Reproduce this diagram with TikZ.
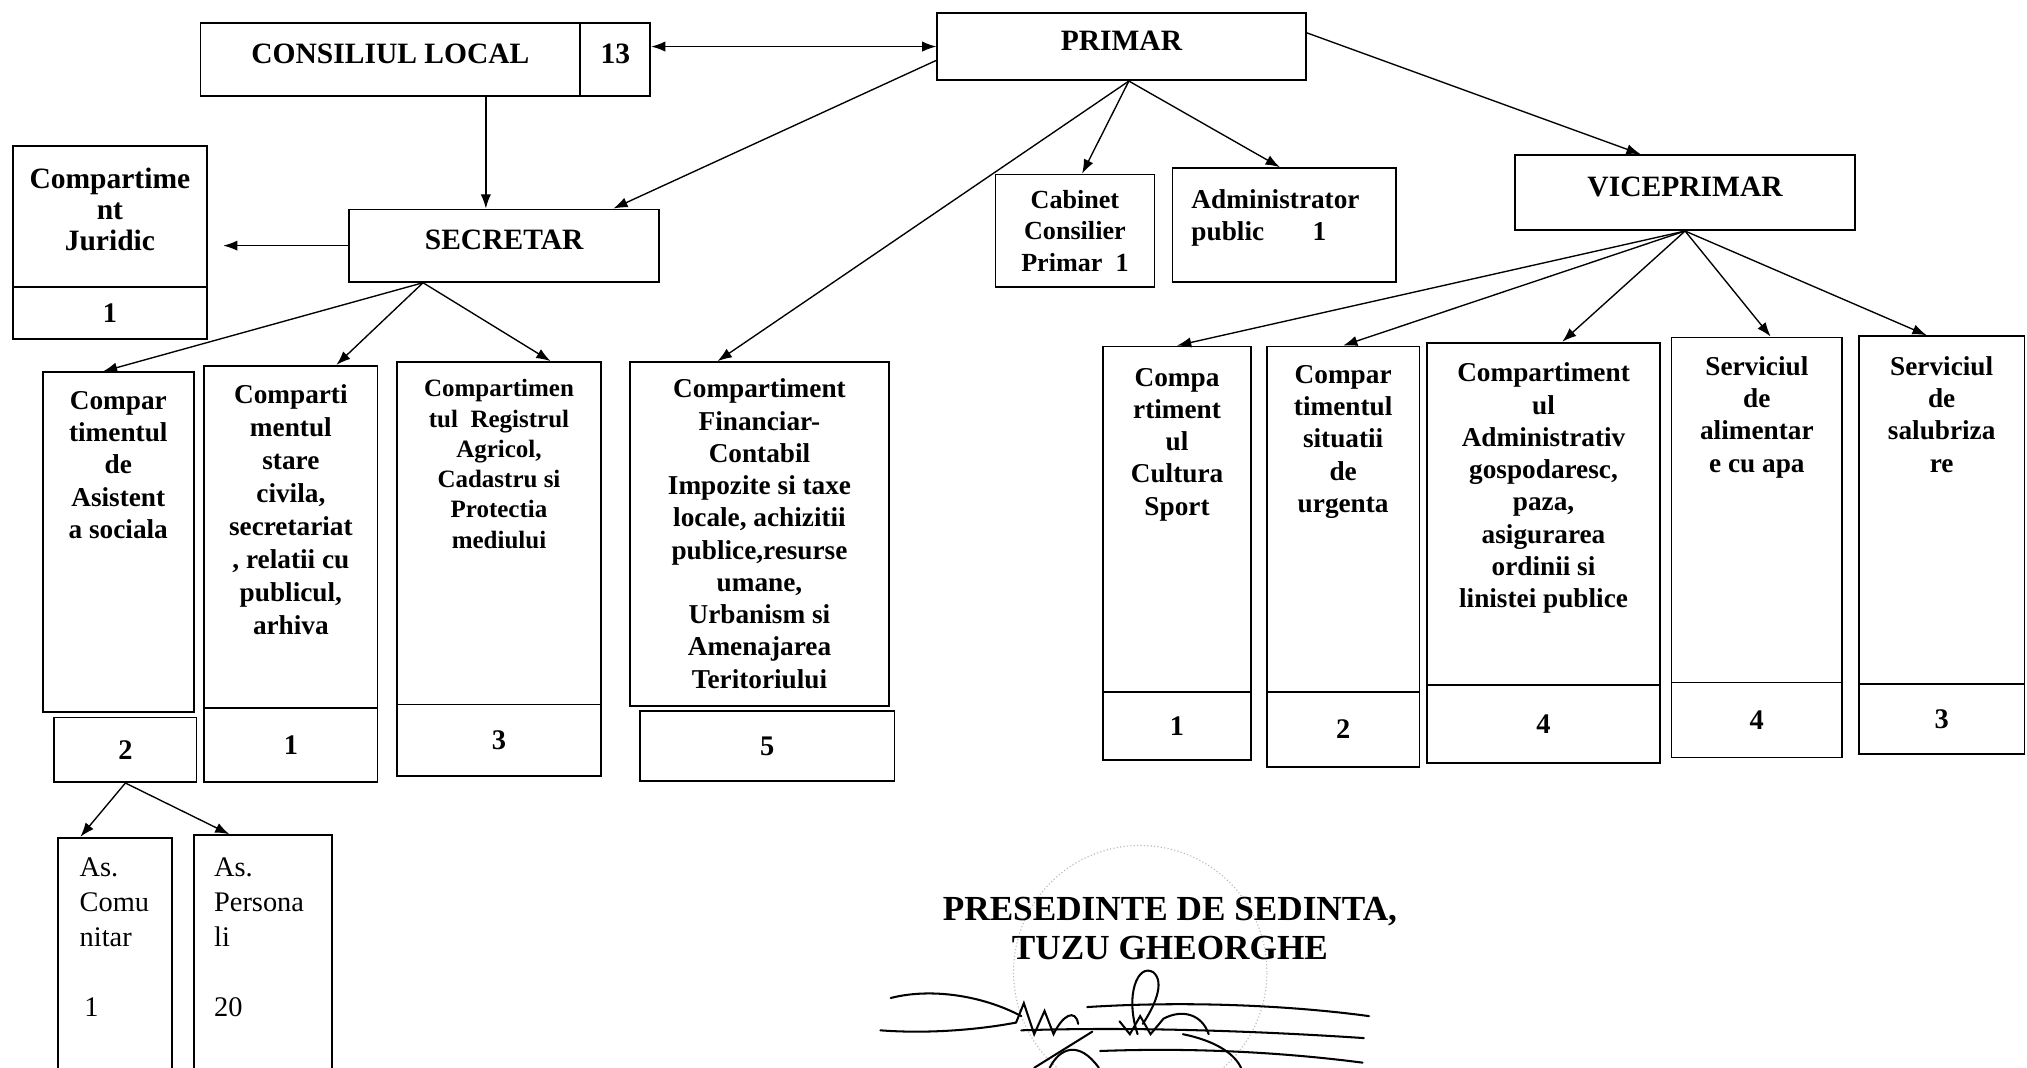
\documentclass[tikz,border=0pt]{standalone}
\usepackage{fontspec}
\setmainfont{Liberation Serif}
\usetikzlibrary{arrows.meta,positioning,calc}

\tikzset{
  cellbox/.style={draw, line width=0.8pt, inner sep=0pt},
  headtxt/.style={font=\bfseries\fontsize{13}{15}\selectfont, text depth=0.18cm},
  txt/.style={font=\bfseries\fontsize{12}{14.2}\selectfont, align=center, inner sep=0pt},
  smalltxt/.style={font=\bfseries\fontsize{11}{13.3}\selectfont, align=center, inner sep=0pt},
  handtxt/.style={font=\fontsize{12.5}{15.4}\selectfont, align=left, inner sep=0pt},
  numtxt/.style={font=\bfseries\fontsize{12.5}{14}\selectfont},
  sigtxt/.style={font=\bfseries\fontsize{15.5}{16}\selectfont},
  conn/.style={->, >={Latex[length=2.2mm,width=1.6mm]}, line width=0.6pt},
  signstroke/.style={line width=0.9pt, line cap=round},
}

\begin{document}
\begin{tikzpicture}[x=0.02cm, y=-0.02cm]
  \useasboundingbox (0,0) rectangle (1568,826);
  \clip (0,0) rectangle (1568,826);

  % Conducere
  \node[cellbox, headtxt, minimum width=5.88cm, minimum height=1.12cm] (consiliu) at (302,46) {CONSILIUL LOCAL};
  \node[cellbox, headtxt, minimum width=1.08cm, minimum height=1.12cm] (consiliu-nr) at (476,46) {13};
  \node[cellbox, headtxt, minimum width=5.7cm, minimum height=1.04cm] (primar) at (867.5,36) {PRIMAR};
  \node[cellbox, headtxt, minimum width=4.8cm, minimum height=1.12cm] (secretar) at (390,190) {SECRETAR};
  \node[cellbox, headtxt, minimum width=5.26cm, minimum height=1.16cm] (viceprimar) at (1303.5,149) {VICEPRIMAR};

  % Cabinet si administrator
  \node[cellbox, txt, font=\bfseries\fontsize{11.5}{13.8}\selectfont, minimum width=2.46cm, minimum height=1.74cm] (cabinet) at (831.5,178.5) {Cabinet\\Consilier\\Primar~~1};
  \node[cellbox, minimum width=3.46cm, minimum height=1.76cm] (admin) at (993.5,174) {};
  \node[txt, align=left, below right=0.34cm and 0.3cm of admin.north west] (admin-txt) {Administrator\\public\hspace{0.75cm}1};

  % Juridic
  \node[cellbox, minimum width=3cm, minimum height=2.18cm] (juridic) at (85,167.5) {};
  \node[cellbox, numtxt, minimum width=3cm, minimum height=0.8cm] (juridic-nr) at (85,242) {1};
  \node[txt, font=\bfseries\fontsize{13}{13.7}\selectfont, below=0.34cm of juridic.north] (juridic-txt) {Compartime\\nt\\Juridic};

  % Compartimente secretar
  \node[cellbox, minimum width=2.34cm, minimum height=5.26cm] (asist) at (91.5,419.5) {};
  \node[cellbox, numtxt, minimum width=2.2cm, minimum height=1cm] (asist-nr) at (97,580) {2};
  \node[txt, below=0.3cm of asist.north] (asist-txt) {Compar\\timentul\\de\\Asistent\\a sociala};

  \node[cellbox, minimum width=2.68cm, minimum height=5.3cm] (stare) at (225,415.5) {};
  \node[cellbox, numtxt, minimum width=2.68cm, minimum height=1.14cm] (stare-nr) at (225,576.5) {1};
  \node[txt, font=\bfseries\fontsize{12}{14.5}\selectfont, below=0.3cm of stare.north] (stare-txt) {Comparti\\mentul\\stare\\civila,\\secretariat\\, relatii cu\\publicul,\\arhiva};

  \node[cellbox, minimum width=3.16cm, minimum height=5.3cm] (registru) at (386,412.5) {};
  \node[cellbox, numtxt, minimum width=3.16cm, minimum height=1.1cm] (registru-nr) at (386,572.5) {3};
  \node[smalltxt, below=0.28cm of registru.north] (registru-txt) {Compartimen\\tul~~Registrul\\Agricol,\\Cadastru si\\Protectia\\mediului};

  % Financiar
  \node[cellbox, minimum width=4.02cm, minimum height=5.32cm] (financiar) at (587.5,413) {};
  \node[cellbox, numtxt, minimum width=3.94cm, minimum height=1.08cm] (financiar-nr) at (593.5,577) {5};
  \node[txt, below=0.27cm of financiar.north] (financiar-txt) {Compartiment\\Financiar-\\Contabil\\Impozite si taxe\\locale, achizitii\\publice,resurse\\umane,\\Urbanism si\\Amenajarea\\Teritoriului};

  % Compartimente viceprimar
  \node[cellbox, minimum width=2.3cm, minimum height=5.34cm] (cultura) at (910.5,401.5) {};
  \node[cellbox, numtxt, minimum width=2.3cm, minimum height=1.06cm] (cultura-nr) at (910.5,561.5) {1};
  \node[txt, below=0.34cm of cultura.north] (cultura-txt) {Compa\\rtiment\\ul\\Cultura\\Sport};

  \node[cellbox, minimum width=2.36cm, minimum height=5.34cm] (situatii) at (1039,401.5) {};
  \node[cellbox, numtxt, minimum width=2.36cm, minimum height=1.16cm] (situatii-nr) at (1039,564) {2};
  \node[txt, below=0.3cm of situatii.north] (situatii-txt) {Compar\\timentul\\situatii\\de\\urgenta};

  \node[cellbox, minimum width=3.6cm, minimum height=5.3cm] (administrativ) at (1194,397.5) {};
  \node[cellbox, numtxt, minimum width=3.6cm, minimum height=1.2cm] (administrativ-nr) at (1194,560) {4};
  \node[txt, below=0.32cm of administrativ.north] (administrativ-txt) {Compartiment\\ul\\Administrativ\\gospodaresc,\\paza,\\asigurarea\\ordinii si\\linistei publice};

  \node[cellbox, minimum width=2.64cm, minimum height=5.34cm] (alimentare) at (1359,394.5) {};
  \node[cellbox, numtxt, minimum width=2.64cm, minimum height=1.16cm] (alimentare-nr) at (1359,557) {4};
  \node[txt, below=0.3cm of alimentare.north] (alimentare-txt) {Serviciul\\de\\alimentar\\e cu apa};

  \node[cellbox, minimum width=2.56cm, minimum height=5.38cm] (salubrizare) at (1502,394.5) {};
  \node[cellbox, numtxt, minimum width=2.56cm, minimum height=1.08cm] (salubrizare-nr) at (1502,556) {3};
  \node[txt, below=0.32cm of salubrizare.north] (salubrizare-txt) {Serviciul\\de\\salubriza\\re};

  % Asistenti
  \node[cellbox, minimum width=1.76cm, minimum height=3.84cm] (ascom) at (89,744) {};
  \node[handtxt, below right=0.32cm and 0.34cm of ascom.north west] (ascom-txt) {As.\\Comu\\nitar\\[15.4pt]\,1};
  \node[cellbox, minimum width=2.14cm, minimum height=3.88cm] (aspers) at (203.5,743) {};
  \node[handtxt, below right=0.36cm and 0.32cm of aspers.north west] (aspers-txt) {As.\\Persona\\li\\[15.4pt]20};

  % Legaturi
  \coordinate (consiliu-jos) at ($(consiliu.south west)!0.75!(consiliu.south east)$);
  \coordinate (primar-jos) at ($(primar.south west)!0.52!(primar.south east)$);
  \coordinate (secretar-jos) at ($(secretar.south west)!0.24!(secretar.south east)$);

  \draw[conn, <->] (consiliu-nr.east |- primar.west) -- (primar.west);
  \draw[conn] (consiliu-jos) -- (consiliu-jos |- secretar.north);
  \draw[conn] ($(primar.south west)!0.3!(primar.north west)$) -- ($(secretar.north west)!0.85!(secretar.north east)$);
  \draw[conn, shorten >=0.24cm] (secretar.west) -- (secretar.west -| juridic.east);
  \draw[conn] (secretar-jos) -- ($(asist.north west)!0.4!(asist.north east)$);
  \draw[conn] (secretar-jos) -- ($(stare.north west)!0.76!(stare.north east)$);
  \draw[conn] (secretar-jos) -- ($(registru.north west)!0.75!(registru.north east)$);
  \draw[conn] (primar-jos) -- ($(cabinet.north west)!0.545!(cabinet.north east)$);
  \draw[conn] (primar-jos) -- ($(admin.north west)!0.48!(admin.north east)$);
  \draw[conn] (primar-jos) -- ($(financiar.north west)!0.34!(financiar.north east)$);
  \draw[conn] ($(primar.north east)!0.3!(primar.south east)$) -- ($(viceprimar.north west)!0.37!(viceprimar.north east)$);
  \draw[conn] (viceprimar.south) -- (cultura.north);
  \draw[conn] (viceprimar.south) -- (situatii.north);
  \draw[conn] (viceprimar.south) -- ($(administrativ.north west)!0.58!(administrativ.north east)$);
  \draw[conn] (viceprimar.south) -- ($(alimentare.north west)!0.58!(alimentare.north east)$);
  \draw[conn] (viceprimar.south) -- ($(salubrizare.north west)!0.41!(salubrizare.north east)$);
  \draw[conn] (asist-nr.south) -- ($(ascom.north west)!0.2!(ascom.north east)$);
  \draw[conn] (asist-nr.south) -- ($(aspers.north west)!0.26!(aspers.north east)$);

  % Semnatura
  \draw[gray!55, densely dotted, line width=0.5pt] (882,752) circle [radius=1.96cm];
  \node[sigtxt] (presedinte) at (905,705) {PRESEDINTE DE SEDINTA,};
  \node[sigtxt] (nume) at (905,733) {TUZU GHEORGHE};
  \draw[signstroke] (689,772) .. controls (720,764) and (760,770) .. (790,786);
  \draw[signstroke] (681,797) .. controls (720,800) and (760,796) .. (786,791);
  \draw[signstroke] (786,791) -- (792,776) -- (800,800) -- (808,782) -- (815,800) .. controls (822,785) and (832,780) .. (834,792);
  \draw[signstroke] (841,779) .. controls (920,774) and (1000,778) .. (1059,786);
  \draw[signstroke] (790,797) .. controls (880,794) and (980,798) .. (1055,803);
  \draw[signstroke] (851,813) .. controls (930,810) and (1000,815) .. (1054,822);
  \draw[signstroke] (880,800) .. controls (870,770) and (880,745) .. (892,752) .. controls (902,760) and (892,780) .. (884,792);
  \draw[signstroke] (866,790) -- (874,800) -- (882,786) -- (890,800) -- (900,788) .. controls (915,780) and (930,785) .. (935,800);
  \draw[signstroke] (800,826) -- (845,798);
  \draw[signstroke] (812,826) .. controls (820,810) and (835,805) .. (850,826);
  \draw[signstroke] (915,800) .. controls (940,805) and (955,815) .. (960,826);
\end{tikzpicture}
\end{document}
